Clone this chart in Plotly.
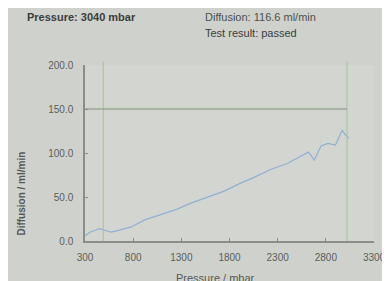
import plotly.graph_objects as go

pressure = [300, 350, 450, 520, 570, 650, 780, 920, 1050, 1250, 1400, 1580, 1750, 1920, 2050, 2220, 2400, 2500, 2620, 2680, 2750, 2820, 2900, 2970, 3000, 3040]
diffusion = [6, 10, 14, 12, 10, 12, 16, 24, 29, 36, 43, 50, 57, 66, 72, 81, 88, 94, 101, 92, 108, 111, 109, 126, 121, 116.6]

x_ticks = [300, 800, 1300, 1800, 2300, 2800, 3300]
y_ticks = [0, 50, 100, 150, 200]
limit_diffusion = 150
marker_pressures = [490, 3020]

fig = go.Figure()
fig.add_trace(go.Scatter(x=pressure, y=diffusion, mode="lines",
                         line=dict(color="#8fb0d4", width=1.2), showlegend=False))

for xp in marker_pressures:
    fig.add_shape(type="line", x0=xp, x1=xp, y0=0, y1=1.02, xref="x", yref="paper",
                  line=dict(color="#a9c79c", width=1.2))
fig.add_shape(type="line", x0=300, x1=marker_pressures[1], y0=limit_diffusion, y1=limit_diffusion,
              xref="x", yref="y", line=dict(color="#7f9478", width=1.2))

hdr = dict(family="Liberation Sans", size=11)
fig.add_annotation(text="<b>Pressure: 3040 mbar</b>", xref="paper", yref="paper",
                   x=-0.207, y=1.273, xanchor="left", yanchor="middle", showarrow=False,
                   font=dict(**hdr, color="#3a3d3a"))
fig.add_annotation(text="Diffusion: 116.6 ml/min", xref="paper", yref="paper",
                   x=0.41, y=1.273, xanchor="left", yanchor="middle", showarrow=False,
                   font=dict(**hdr, color="#4e514e"))
fig.add_annotation(text="Test result: passed", xref="paper", yref="paper",
                   x=0.41, y=1.182, xanchor="left", yanchor="middle", showarrow=False,
                   font=dict(**hdr, color="#3a3d3a"))
fig.add_annotation(text="<b>Diffusion / ml/min</b>", xref="paper", yref="paper",
                   x=-0.223, y=0.267, xanchor="center", yanchor="middle", textangle=-90,
                   showarrow=False, font=dict(family="Liberation Sans", size=10, color="#555855"))
fig.add_annotation(text="Pressure / mbar", xref="paper", yref="paper",
                   x=0.45, y=-0.21, xanchor="center", yanchor="middle",
                   showarrow=False, font=dict(family="Liberation Sans", size=11, color="#555855"))

fig.update_layout(
    width=390, height=281,
    margin=dict(l=77, r=13, t=57, b=48),
    paper_bgcolor="#cfd2cc", plot_bgcolor="#d3d6d0",
    font=dict(family="Liberation Sans", size=10, color="#5a5d5a"),
    xaxis=dict(range=[300, 3300], tickvals=x_ticks, ticktext=[str(v) for v in x_ticks],
               showgrid=False, zeroline=False, showline=True, linecolor="#8a8d88", linewidth=1.5,
               ticks="inside", ticklen=3, tickcolor="#8a8d88", ticklabelstandoff=6),
    yaxis=dict(range=[0, 200], tickvals=y_ticks, tickformat=".1f",
               showgrid=False, zeroline=False, showline=True, linecolor="#8a8d88", linewidth=1.5,
               ticks="inside", ticklen=3, tickcolor="#8a8d88", ticklabelstandoff=8),
)

fig.write_html("out.html")
